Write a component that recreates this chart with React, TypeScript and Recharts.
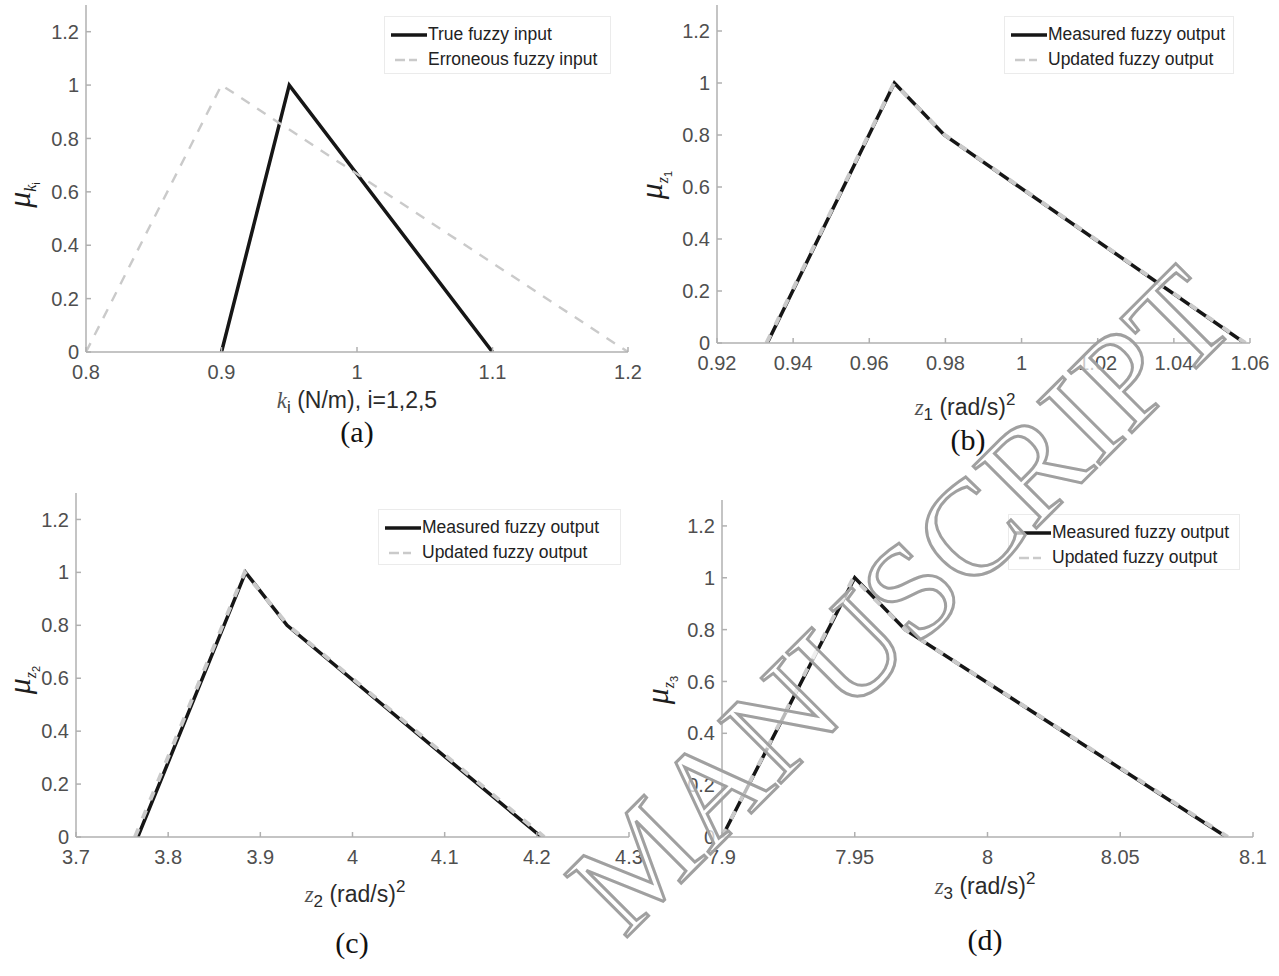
import React from 'react';
import { LineChart, Line, XAxis, YAxis, Legend } from 'recharts';

// shared membership ticks
const muTicks = [0, 0.2, 0.4, 0.6, 0.8, 1, 1.2];

// (a) stiffness input k_i
const kTicks = [0.8, 0.9, 1, 1.1, 1.2];
const kTrueX = [0.9, 0.95, 1.1];
const kTrueMu = [0, 1, 0];
const kErrX = [0.8, 0.9, 1.2];
const kErrMu = [0, 1, 0];

// (b) output z1
const z1Ticks = [0.92, 0.94, 0.96, 0.98, 1, 1.02, 1.04, 1.06];
const z1MeasX = [0.9332, 0.9666, 0.9797, 1.0586];
const z1MeasMu = [0, 1, 0.8, 0];
const z1UpdX = [0.933, 0.9665, 0.9798, 1.0588];
const z1UpdMu = [0, 1, 0.8, 0];

// (c) output z2
const z2Ticks = [3.7, 3.8, 3.9, 4, 4.1, 4.2, 4.3];
const z2MeasX = [3.767, 3.884, 3.929, 4.205];
const z2MeasMu = [0, 1, 0.8, 0];
const z2UpdX = [3.764, 3.883, 3.93, 4.208];
const z2UpdMu = [0, 1, 0.8, 0];

// (d) output z3
const z3Ticks = [7.9, 7.95, 8, 8.05, 8.1];
const z3MeasX = [7.9, 7.95, 7.969, 8.09];
const z3MeasMu = [0, 1, 0.8, 0];
const z3UpdX = [7.9, 7.9495, 7.969, 8.0905];
const z3UpdMu = [0, 1, 0.8, 0];

const SANS = '"Liberation Sans", Arial, Helvetica, sans-serif';
const SERIF = '"Liberation Serif", "Times New Roman", serif';
const FRAME = '#b0b0b0';
const BLACK = '#161616';
const GREY = '#cacaca';

const zip = (xs: number[], mus: number[]) => xs.map((x, i) => ({ x, mu: mus[i] }));

type Series = { name: string; data: { x: number; mu: number }[]; dashed: boolean };
type Box = { l: number; t: number; r: number; b: number };

const LegendBox = ({ series, w, h }: { series: Series[]; w: number; h: number }) => (
  <div
    style={{
      width: w,
      height: h,
      boxSizing: 'border-box',
      border: '1px solid #ebebeb',
      background: '#fff',
      paddingTop: 5,
    }}
  >
    {series.map((s) => (
      <div key={s.name} style={{ display: 'flex', alignItems: 'center', height: 25, paddingLeft: 6 }}>
        <svg width={36} height={10}>
          {s.dashed ? (
            <line x1={4} y1={5} x2={26} y2={5} stroke={GREY} strokeWidth={2.5} strokeDasharray="10 4" />
          ) : (
            <line x1={0} y1={5} x2={36} y2={5} stroke={BLACK} strokeWidth={3.5} />
          )}
        </svg>
        <span style={{ fontFamily: SANS, fontSize: 17.5, color: '#222', marginLeft: 1, whiteSpace: 'nowrap' }}>
          {s.name}
        </span>
      </div>
    ))}
  </div>
);

function Panel({
  box,
  domain,
  ticks,
  series,
  legend,
  dash,
  greyWidth,
}: {
  box: Box;
  domain: [number, number];
  ticks: number[];
  series: Series[];
  legend: Box;
  dash: string;
  greyWidth: number;
}) {
  const left = box.l - 60;
  const top = box.t - 10;
  const width = box.r - box.l + 85;
  const height = box.b - box.t + 50;
  const tickStyle = { fill: '#4f4f4f', fontSize: 20, fontFamily: SANS };
  return (
    <div style={{ position: 'absolute', left, top }}>
      <LineChart width={width} height={height} margin={{ top: 10, right: 25, bottom: 0, left: 0 }}>
        <XAxis
          xAxisId="b"
          type="number"
          dataKey="x"
          domain={domain}
          ticks={ticks}
          allowDataOverflow
          height={40}
          stroke={FRAME}
          strokeWidth={1.5}
          tickSize={-5}
          tickMargin={18}
          tick={tickStyle}
          tickFormatter={(v: number) => String(v)}
          interval={0}
        />
        <XAxis
          xAxisId="t"
          orientation="top"
          type="number"
          dataKey="x"
          domain={domain}
          ticks={ticks}
          allowDataOverflow
          height={0}
          stroke={FRAME}
          strokeWidth={1.5}
          tickSize={-5}
          tick={false}
          interval={0}
        />
        <YAxis
          yAxisId="l"
          type="number"
          domain={[0, 1.3]}
          ticks={muTicks}
          allowDataOverflow
          width={60}
          stroke={FRAME}
          strokeWidth={1.5}
          tickSize={-5}
          tickMargin={12}
          tick={tickStyle}
          tickFormatter={(v: number) => String(v)}
          interval={0}
        />
        <YAxis
          yAxisId="r"
          orientation="right"
          type="number"
          domain={[0, 1.3]}
          ticks={muTicks}
          allowDataOverflow
          width={0}
          stroke={FRAME}
          strokeWidth={1.5}
          tickSize={-5}
          tick={false}
          interval={0}
        />
        {series.map((s) => (
          <Line
            key={s.name}
            xAxisId="b"
            yAxisId="l"
            type="linear"
            data={s.data}
            dataKey="mu"
            name={s.name}
            stroke={s.dashed ? GREY : BLACK}
            strokeWidth={s.dashed ? greyWidth : 3.5}
            strokeDasharray={s.dashed ? dash : undefined}
            dot={false}
            activeDot={false}
            isAnimationActive={false}
          />
        ))}
        <Legend
          layout="horizontal"
          verticalAlign="middle"
          align="center"
          wrapperStyle={{
            left: legend.l - left,
            top: legend.t - top,
            width: legend.r - legend.l,
            height: legend.b - legend.t,
          }}
          content={() => <LegendBox series={series} w={legend.r - legend.l} h={legend.b - legend.t} />}
        />
      </LineChart>
    </div>
  );
}

const YLab = ({ x, y, sub, subsub }: { x: number; y: number; sub: string; subsub: string }) => (
  <text transform={`translate(${x},${y}) rotate(-90)`} textAnchor="middle" fill="#1e1e1e">
    <tspan fontFamily={SERIF} fontStyle="italic" fontSize={32}>μ</tspan>
    <tspan fontFamily={SERIF} fontStyle="italic" fontSize={16} dy={6}>{sub}</tspan>
    <tspan fontFamily={SANS} fontSize={11} dy={4}>{subsub}</tspan>
  </text>
);

const XLab = ({ x, y, v, sub, rest, sup }: { x: number; y: number; v: string; sub: string; rest: string; sup?: string }) => (
  <text x={x} y={y} textAnchor="middle" fill="#2b2b2b" fontFamily={SANS} fontSize={23}>
    <tspan fontFamily={SERIF} fontStyle="italic" fill="#555">{v}</tspan>
    <tspan fontSize={17} dy={5}>{sub}</tspan>
    <tspan dy={-5}>{rest}</tspan>
    {sup ? <tspan fontSize={17} dy={-10}>{sup}</tspan> : null}
  </text>
);

const Cap = ({ x, y, t }: { x: number; y: number; t: string }) => (
  <text x={x} y={y} textAnchor="middle" fontFamily={SERIF} fontSize={30} fill="#111">
    {t}
  </text>
);

export default function App() {
  const panelA: Series[] = [
    { name: 'True fuzzy input', data: zip(kTrueX, kTrueMu), dashed: false },
    { name: 'Erroneous fuzzy input', data: zip(kErrX, kErrMu), dashed: true },
  ];
  const panelB: Series[] = [
    { name: 'Measured fuzzy output', data: zip(z1MeasX, z1MeasMu), dashed: false },
    { name: 'Updated fuzzy output', data: zip(z1UpdX, z1UpdMu), dashed: true },
  ];
  const panelC: Series[] = [
    { name: 'Measured fuzzy output', data: zip(z2MeasX, z2MeasMu), dashed: false },
    { name: 'Updated fuzzy output', data: zip(z2UpdX, z2UpdMu), dashed: true },
  ];
  const panelD: Series[] = [
    { name: 'Measured fuzzy output', data: zip(z3MeasX, z3MeasMu), dashed: false },
    { name: 'Updated fuzzy output', data: zip(z3UpdX, z3UpdMu), dashed: true },
  ];

  return (
    <div style={{ position: 'absolute', left: 0, top: 0, width: 1279, height: 976, background: '#fff', overflow: 'hidden' }}>
      <Panel box={{ l: 86, t: 5, r: 628, b: 352 }} domain={[0.8, 1.2]} ticks={kTicks} series={panelA}
        legend={{ l: 384, t: 16, r: 611, b: 74 }} dash="10 9" greyWidth={2.4} />
      <Panel box={{ l: 717, t: 5, r: 1250, b: 343 }} domain={[0.92, 1.06]} ticks={z1Ticks} series={panelB}
        legend={{ l: 1004, t: 16, r: 1234, b: 74 }} dash="9 11" greyWidth={4} />
      <Panel box={{ l: 76, t: 493, r: 629, b: 837 }} domain={[3.7, 4.3]} ticks={z2Ticks} series={panelC}
        legend={{ l: 378, t: 509, r: 621, b: 565 }} dash="9 11" greyWidth={4} />
      <Panel box={{ l: 722, t: 500, r: 1253, b: 837 }} domain={[7.9, 8.1]} ticks={z3Ticks} series={panelD}
        legend={{ l: 1008, t: 514, r: 1240, b: 570 }} dash="9 11" greyWidth={4} />

      <svg width={1279} height={976} style={{ position: 'absolute', left: 0, top: 0, pointerEvents: 'none' }}>
        <YLab x={30} y={195} sub="k" subsub="i" />
        <YLab x={662} y={185} sub="z" subsub="1" />
        <YLab x={30} y={680} sub="z" subsub="2" />
        <YLab x={668} y={690} sub="z" subsub="3" />

        <XLab x={357} y={408} v="k" sub="i" rest=" (N/m), i=1,2,5" />
        <XLab x={965} y={415} v="z" sub="1" rest=" (rad/s)" sup="2" />
        <XLab x={355} y={902} v="z" sub="2" rest=" (rad/s)" sup="2" />
        <XLab x={985} y={894} v="z" sub="3" rest=" (rad/s)" sup="2" />

        <Cap x={357} y={442} t="(a)" />
        <Cap x={968} y={450} t="(b)" />
        <Cap x={352} y={953} t="(c)" />
        <Cap x={985} y={950} t="(d)" />

        <text
          transform="translate(900,600) rotate(-45)"
          textAnchor="middle"
          dominantBaseline="central"
          fontFamily={SERIF}
          fontSize={135}
          fill="#ffffff"
          fillOpacity={0.7}
          stroke="#a0a0a0"
          strokeWidth={3}
        >
          MANUSCRIPT
        </text>
      </svg>
    </div>
  );
}
